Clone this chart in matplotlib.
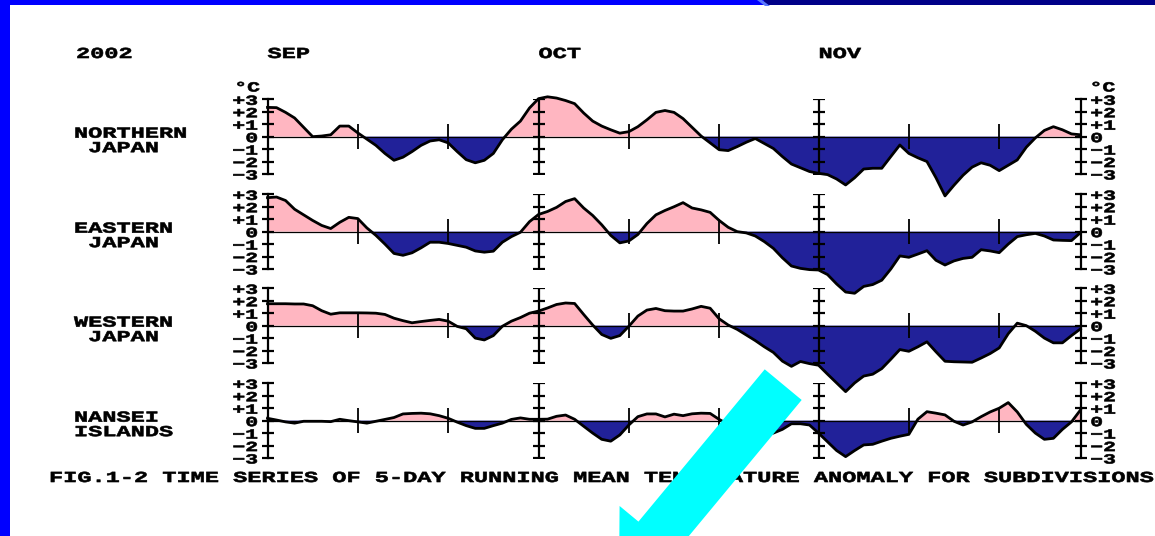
import numpy as np
import pandas as pd
import matplotlib as mpl
mpl.use('Agg')
from matplotlib import pyplot as plt
from matplotlib.patheffects import AbstractPathEffect
from matplotlib.transforms import Affine2D
from matplotlib.patches import Rectangle, FancyArrow, Polygon

# 5-day running mean temperature anomaly (degC), daily, 2002-09-01 .. 2002-11-30
northern = [2.35, 2.33, 1.95, 1.5, 0.75, 0.0, 0.05, 0.15, 0.85, 0.85,
            0.3, -0.2, -0.7, -1.35, -1.9, -1.65, -1.2, -0.7, -0.35, -0.25,
            -0.5, -1.2, -1.85, -2.1, -1.9, -1.35, -0.25, 0.6, 1.25, 2.3,
            3.05, 3.2, 3.1, 2.9, 2.65, 1.9, 1.25, 0.85, 0.55, 0.28,
            0.4, 0.8, 1.35, 1.95, 2.1, 1.95, 1.45, 0.75, 0.05, -0.5,
            -1.05, -1.12, -0.8, -0.45, -0.15, -0.55, -0.95, -1.6, -2.2, -2.5,
            -2.8, -2.95, -3.05, -3.4, -3.88, -3.3, -2.6, -2.54, -2.54, -1.6,
            -0.67, -1.35, -1.7, -2.0, -3.3, -4.76, -3.9, -3.1, -2.45, -2.1,
            -2.3, -2.73, -2.3, -1.87, -0.85, -0.1, 0.5, 0.8, 0.55, 0.22, 0.15]
eastern = [2.73, 2.78, 2.5, 1.8, 1.35, 0.9, 0.5, 0.25, 0.75, 1.15,
           1.05, 0.3, -0.3, -1.0, -1.75, -1.9, -1.7, -1.3, -0.85, -0.85,
           -0.95, -1.1, -1.25, -1.55, -1.65, -1.57, -0.85, -0.4, -0.05, 0.8,
           1.38, 1.62, 1.95, 2.42, 2.65, 1.9, 1.3, 0.55, -0.3, -0.9,
           -0.75, -0.23, 0.65, 1.35, 1.7, 2.0, 2.33, 1.9, 1.75, 1.55,
           0.9, 0.35, 0.0, -0.1, -0.35, -0.8, -1.34, -2.1, -2.76, -2.95,
           -3.05, -3.08, -3.45, -4.2, -4.85, -4.95, -4.4, -4.25, -3.9, -3.0,
           -1.95, -2.06, -1.8, -1.53, -2.3, -2.68, -2.35, -2.15, -2.06, -1.45,
           -1.55, -1.69, -1.0, -0.4, -0.25, -0.14, -0.35, -0.67, -0.7, -0.72, -0.08]
western = [1.76, 1.76, 1.76, 1.74, 1.74, 1.6, 1.2, 0.92, 1.03, 1.03,
           1.03, 1.02, 1.0, 0.9, 0.6, 0.4, 0.23, 0.33, 0.42, 0.5,
           0.36, -0.06, -0.25, -1.0, -1.15, -0.8, -0.05, 0.36, 0.65, 1.0,
           1.17, 1.42, 1.7, 1.82, 1.78, 0.9, 0.05, -0.71, -1.02, -0.8,
           -0.05, 0.77, 1.25, 1.38, 1.2, 1.17, 1.17, 1.34, 1.55, 1.4,
           0.55, 0.05, -0.3, -0.75, -1.2, -1.7, -2.15, -2.85, -3.27, -2.88,
           -3.05, -3.18, -3.9, -4.6, -5.3, -4.6, -4.05, -3.9, -3.45, -2.7,
           -1.92, -2.06, -1.7, -1.3, -2.1, -2.86, -2.9, -2.92, -2.94, -2.6,
           -2.24, -1.79, -0.65, 0.2, 0.0, -0.45, -1.0, -1.38, -1.38, -0.8, -0.26]
nansei = [0.19, 0.05, -0.1, -0.2, -0.05, -0.05, -0.05, -0.08, 0.11, 0.0,
          -0.1, -0.2, -0.05, 0.1, 0.25, 0.54, 0.58, 0.6, 0.55, 0.4,
          0.19, -0.12, -0.4, -0.62, -0.62, -0.4, -0.2, 0.1, 0.22, 0.11,
          0.11, 0.12, 0.35, 0.45, 0.11, -0.45, -1.0, -1.5, -1.65, -1.15,
          -0.35, 0.32, 0.54, 0.54, 0.3, 0.52, 0.4, 0.55, 0.6, 0.58,
          0.1, -0.3, -0.6, -0.8, -0.9, -1.0, -1.0, -0.7, -0.25, -0.25,
          -0.35, -1.0, -1.7, -2.4, -2.89, -2.4, -1.95, -1.9, -1.65, -1.42,
          -1.25, -1.1, 0.12, 0.72, 0.6, 0.46, -0.05, -0.35, -0.1, 0.32,
          0.7, 1.0, 1.45, 0.7, -0.3, -1.0, -1.5, -1.42, -0.7, -0.1, 0.86]

series = [northern, eastern, western, nansei]
regions = [('NORTHERN', ' JAPAN'), ('EASTERN', ' JAPAN'),
           ('WESTERN', ' JAPAN'), ('NANSEI', 'ISLANDS')]
ylabels = ['\u22123', '\u22122', '\u22121', '0', '+1', '+2', '+3']
year = '2002'
caption = 'FIG.1-2 TIME SERIES OF 5-DAY RUNNING MEAN TEMPERATURE ANOMALY FOR SUBDIVISIONS'

dates = pd.date_range('2002-09-01', '2002-11-30')
days = np.arange(len(dates))
month_start = days[dates.day == 1]
month_names = [d.strftime('%b').upper() for d in dates[dates.day == 1]]
tens = days[(dates.day == 11) | (dates.day == 21)]

PINK = '#FFB6C1'
NAVY = '#212199'
SX = 1.545     # the old plotter font is much wider than Liberation Mono
FS = 11

plt.rcParams['font.family'] = ['Liberation Mono', 'DejaVu Sans Mono']
plt.rcParams['font.weight'] = 'bold'


class Widen(AbstractPathEffect):
    ''' stretch the text horizontally about its anchor, a bit heavier too '''
    def __init__(self, sx=SX, anchor='left', stroke=0.45):
        super().__init__()
        self.sx = sx
        self.anchor = anchor
        self.stroke = stroke

    def draw_path(self, renderer, gc, tpath, affine, rgbFace=None):
        ext = tpath.get_extents()
        x0 = {'left': 0.0, 'right': ext.x1,
              'center': 0.5 * (ext.x0 + ext.x1)}[self.anchor]
        tr = Affine2D().translate(-x0, 0).scale(self.sx, 1).translate(x0, 0)
        gc0 = renderer.new_gc()
        gc0.copy_properties(gc)
        gc0.set_linewidth(self.stroke)
        gc0.set_foreground(rgbFace)
        renderer.draw_path(gc0, tpath, tr + affine, rgbFace)
        gc0.restore()


W, H = 1155, 536
fig = plt.figure(figsize=(W / 100, H / 100), dpi=100)
fig.patch.set_facecolor('white')

def wtext(x, y, s, **kw):
    # x, y in picture pixels (y from top), baseline anchored
    t = fig.text(x / W, 1 - y / H, s, fontsize=FS, va='baseline', **kw)
    t.set_path_effects([Widen(SX, kw.get('ha', 'left'))])
    return t

tops = [99.3, 194.3, 288.3, 383.3]
ph = 74.7
x_left, x_right = 267.5, 1080.5
yt = np.arange(-3, 4)

axes = []
for k, (vals, name) in enumerate(zip(series, regions)):
    ax = fig.add_axes([x_left / W, 1 - (tops[k] + ph) / H,
                       (x_right - x_left) / W, ph / H])
    ax.patch.set_visible(False)
    v = np.array(vals)
    ax.fill_between(days, v, 0, where=v >= 0, interpolate=True,
                    color=PINK, lw=0, clip_on=False, zorder=1)
    ax.fill_between(days, v, 0, where=v <= 0, interpolate=True,
                    color=NAVY, lw=0, clip_on=False, zorder=1)
    ax.axhline(0, color='k', lw=0.9, zorder=2)
    ax.plot(days, v, color='k', lw=2.0, clip_on=False, zorder=2.5,
            solid_joinstyle='round')
    for d in month_start[1:]:
        ax.vlines(d, -3, 3, color='k', lw=1.6, zorder=3)
        ax.plot([d] * len(yt), yt, ls='none', marker='_', ms=8, mew=1.6,
                color='k', zorder=3)
    ax.vlines(tens, -1, 1, color='k', lw=1.3, zorder=3)

    ax.set_xlim(days[0], days[-1])
    ax.set_ylim(-3, 3)
    ax.set_xticks([])
    ax.set_yticks(yt, ylabels)
    for s in ['top', 'bottom']:
        ax.spines[s].set_visible(False)
    for s in ['left', 'right']:
        ax.spines[s].set_linewidth(1.6)
    ax.tick_params(axis='y', direction='inout', length=8, width=1.6,
                   left=True, right=True, labelleft=True, labelright=True,
                   labelsize=10, pad=3)
    for t in ax.yaxis.get_major_ticks():
        t.label1.set_path_effects([Widen(SX, 'right')])
        t.label2.set_path_effects([Widen(SX, 'left')])

    zero = tops[k] + ph / 2
    wtext(74, zero + 1, name[0])
    wtext(74, zero + 15.5, name[1])
    axes.append(ax)

# degree labels on top of the first panel
for xa, ha, dx in [(0, 'right', -5.5), (days[-1], 'left', 6.5)]:
    t = axes[0].annotate('\u00b0C', xy=(xa, 3), xytext=(dx, 8.5),
                         textcoords='offset points', ha=ha, va='center',
                         fontsize=10)
    t.set_path_effects([Widen(SX, ha)])

wtext(76, 58, year)
for d, m in zip(month_start, month_names):
    t = axes[0].annotate(m, xy=(d, H - 58), xycoords=('data', 'figure pixels'),
                         ha='left', va='baseline', fontsize=FS)
    t.set_path_effects([Widen(SX, 'left')])

wtext(49, 482, caption)

# slide decoration: border bars and the cyan arrow (figure pixels, y up)
pix = mpl.transforms.IdentityTransform()
fig.add_artist(Rectangle((0, 0), 10, H, transform=pix,
                         color='#0000FF', lw=0, zorder=20))
fig.add_artist(Rectangle((0, H - 5), 764, 5, transform=pix,
                         color='#0000FF', lw=0, zorder=20))
fig.add_artist(Rectangle((764, H - 5), W - 764, 5, transform=pix,
                         color='#000088', lw=0, zorder=20))
fig.add_artist(Polygon([(757, H), (762, H), (770, H - 6), (765, H - 6)],
                       transform=pix, color='#5A78FF', lw=0, zorder=21))

fig.add_artist(FancyArrow(7.832, (H - 384.65) / 100, -1.642, -1.98,
                          width=0.48, head_width=0.97, head_length=0.594,
                          length_includes_head=True, transform=fig.dpi_scale_trans,
                          color='#00FFFF', lw=0, zorder=10))

fig.savefig('out.png', dpi=100)
